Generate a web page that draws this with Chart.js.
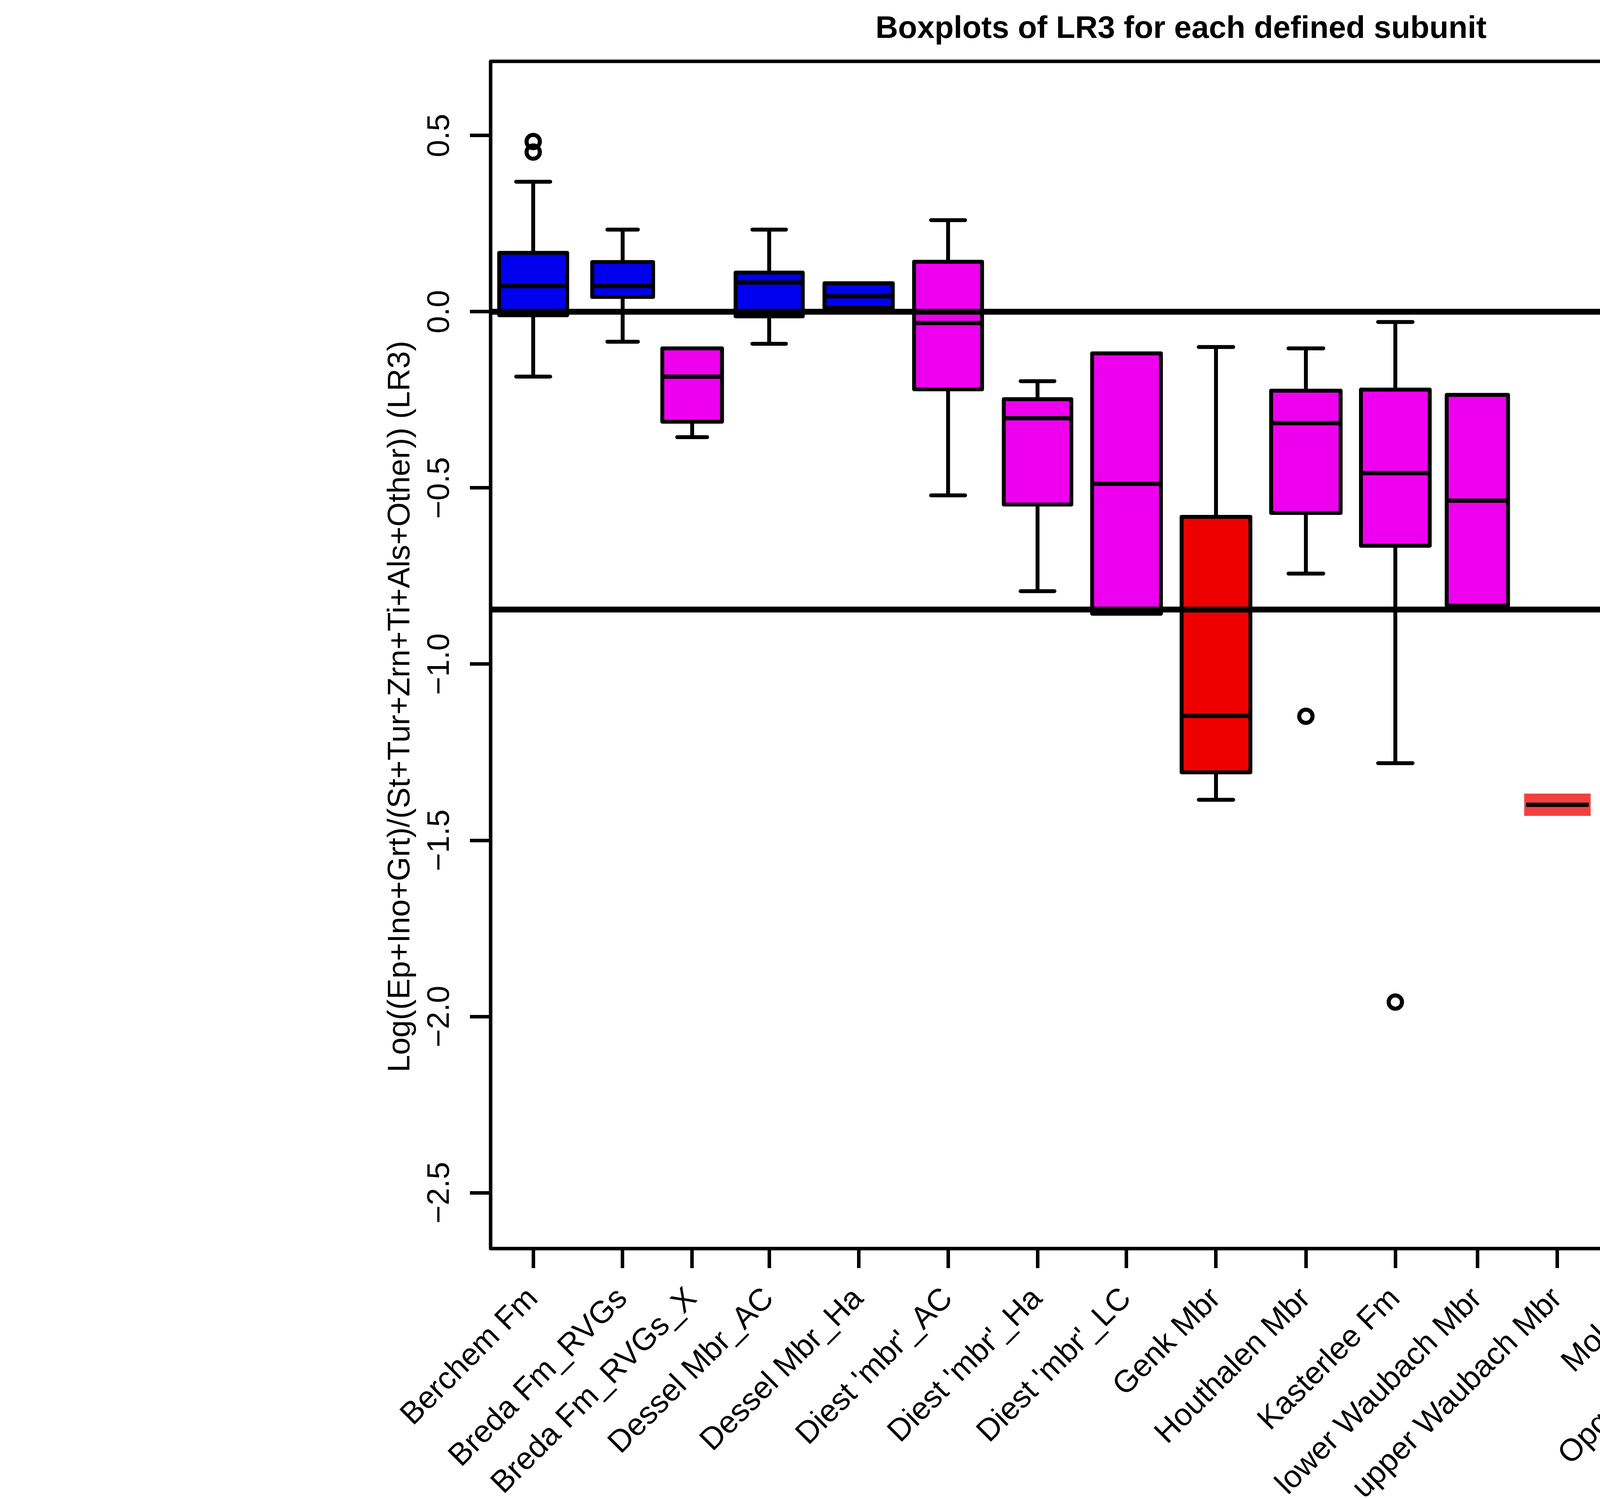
<!DOCTYPE html>
<html lang="en">
<head>
  <meta charset="UTF-8">
  <title>Boxplots of LR3 for each defined subunit</title>
  <script src="https://cdn.jsdelivr.net/npm/chart.js"></script>
  <style>
    html, body {
      margin: 0;
      padding: 0;
      background: #ffffff;
    }
    #wrap {
      width: 5757px;
      height: 3837px;
    }
  </style>
</head>
<body>

  <div id="wrap"><canvas id="lr3Chart" width="5757" height="3837"></canvas></div>

  <script>
    // subunits, in plotting order
    const subunits = [
      "Berchem Fm", "Breda Fm_RVGs", "Breda Fm_RVGs_X", "Dessel Mbr_AC", "Dessel Mbr_Ha",
      "Diest 'mbr'_AC", "Diest 'mbr'_Ha", "Diest 'mbr'_LC", "Genk Mbr", "Houthalen Mbr",
      "Kasterlee Fm", "lower Waubach Mbr", "upper Waubach Mbr", "Mol Fm", "Opgrimbie facies",
      "Flemish Hills 'fm'"
    ];

    // where each box sits on the x axis (like R's "at")
    const positions = [1.109, 2.109, 2.886, 3.747, 4.747, 5.747, 6.747, 7.742,
                       8.742, 9.747, 10.747, 11.664, 12.559, 13.498, 14.489, 15.563];

    // relative box widths (like R's "width")
    const boxWidths = [0.760, 0.681, 0.668, 0.751, 0.764, 0.760, 0.755, 0.769,
                       0.769, 0.777, 0.769, 0.686, 0.699, 0.777, 0.786, 0.786];

    // box statistics (LR3)
    const whiskerLow    = [-0.184, -0.085, -0.356, -0.091, 0.011, -0.521, -0.793, -0.857,
                           -1.385, -0.743, -1.281, -0.834, -1.399, -1.205, -2.533, -2.521];
    const lowerQuartile = [-0.010, 0.042, -0.312, -0.013, 0.011, -0.220, -0.547, -0.857,
                           -1.307, -0.571, -0.664, -0.834, -1.399, -1.205, -2.533, -1.953];
    const medians       = [0.073, 0.073, -0.184, 0.083, 0.044, -0.032, -0.302, -0.488,
                           -1.147, -0.316, -0.458, -0.536, -1.399, -1.044, -2.533, -1.766];
    const upperQuartile = [0.167, 0.141, -0.104, 0.111, 0.081, 0.142, -0.248, -0.118,
                           -0.582, -0.224, -0.221, -0.236, -1.399, -0.885, -2.533, -1.560];
    const whiskerHigh   = [0.369, 0.233, -0.104, 0.233, 0.081, 0.260, -0.197, -0.118,
                           -0.100, -0.104, -0.029, -0.236, -1.399, -0.885, -2.533, -1.465];
    const outliers = [[0.483, 0.453], [], [], [], [], [], [], [],
                      [], [-1.148], [-1.959], [], [], [], [], [-0.739]];

    // horizontal reference lines
    const refLines = [0, -0.845];

    const yTicks = [-2.5, -2.0, -1.5, -1.0, -0.5, 0.0, 0.5];

    const BLUE = '#0000EE', MAGENTA = '#EE00EE', RED = '#EE0000';
    const boxColors = [BLUE, BLUE, MAGENTA, BLUE, BLUE, MAGENTA, MAGENTA, MAGENTA,
                       RED, MAGENTA, MAGENTA, MAGENTA, RED, RED, RED, RED];

    const xMin = 0.633, xMax = 16.07;
    const yMin = -2.6585, yMax = 0.7106;

    Chart.defaults.font.family = "'Liberation Sans', Arial, Helvetica, sans-serif";
    Chart.defaults.color = '#000000';

    const LW = 10;

    // boxes, whiskers and medians, drawn through the chart scales
    const boxplotPlugin = {
      id: 'boxplots',
      beforeDatasetsDraw(chart) {
        const { ctx, scales: { x, y } } = chart;
        ctx.save();
        ctx.strokeStyle = '#000000';
        subunits.forEach((name, i) => {
          const cx = x.getPixelForValue(positions[i]);
          const half = x.getPixelForValue(positions[i] + boxWidths[i] / 2) - cx;
          const yLo = y.getPixelForValue(whiskerLow[i]);
          const yQ1 = y.getPixelForValue(lowerQuartile[i]);
          const yMed = y.getPixelForValue(medians[i]);
          const yQ3 = y.getPixelForValue(upperQuartile[i]);
          const yHi = y.getPixelForValue(whiskerHigh[i]);

          // whiskers + staples
          ctx.lineWidth = LW;
          if (whiskerHigh[i] > upperQuartile[i]) {
            ctx.lineCap = 'butt';
            ctx.beginPath(); ctx.moveTo(cx, yQ3); ctx.lineTo(cx, yHi); ctx.stroke();
            ctx.lineCap = 'round';
            ctx.beginPath(); ctx.moveTo(cx - half / 2, yHi); ctx.lineTo(cx + half / 2, yHi); ctx.stroke();
          }
          if (whiskerLow[i] < lowerQuartile[i]) {
            ctx.lineCap = 'butt';
            ctx.beginPath(); ctx.moveTo(cx, yQ1); ctx.lineTo(cx, yLo); ctx.stroke();
            ctx.lineCap = 'round';
            ctx.beginPath(); ctx.moveTo(cx - half / 2, yLo); ctx.lineTo(cx + half / 2, yLo); ctx.stroke();
          }

          // box
          ctx.lineCap = 'butt';
          if (upperQuartile[i] > lowerQuartile[i]) {
            ctx.fillStyle = boxColors[i];
            ctx.fillRect(cx - half, yQ3, 2 * half, yQ1 - yQ3);
            ctx.lineJoin = 'round';
            ctx.strokeRect(cx - half, yQ3, 2 * half, yQ1 - yQ3);
          } else {
            // single value: light band around the median
            ctx.globalAlpha = 0.75;
            ctx.fillStyle = boxColors[i];
            ctx.fillRect(cx - half - LW / 2, yMed - 28.5, 2 * half + LW, 57);
            ctx.globalAlpha = 1;
          }

          // median
          ctx.lineWidth = 11;
          ctx.beginPath(); ctx.moveTo(cx - half, yMed); ctx.lineTo(cx + half, yMed); ctx.stroke();
        });
        ctx.restore();
      }
    };

    // plot frame
    const framePlugin = {
      id: 'frame',
      afterDraw(chart) {
        const { ctx, chartArea: a } = chart;
        ctx.save();
        ctx.strokeStyle = '#000000';
        ctx.lineWidth = 9;
        ctx.lineJoin = 'round';
        ctx.strokeRect(a.left, a.top, a.right - a.left, a.bottom - a.top);
        ctx.restore();
      }
    };

    // y axis title (sits a little below the middle of the axis, as in the original)
    const yTitlePlugin = {
      id: 'yTitle',
      afterDraw(chart) {
        const { ctx, chartArea: a } = chart;
        ctx.save();
        ctx.translate(a.left - 208, (a.top + a.bottom) / 2 + 132);
        ctx.rotate(-Math.PI / 2);
        ctx.fillStyle = '#000000';
        ctx.font = "80px 'Liberation Sans', Arial, Helvetica, sans-serif";
        ctx.textAlign = 'center';
        ctx.textBaseline = 'alphabetic';
        ctx.fillText('Log((Ep+Ino+Grt)/(St+Tur+Zrn+Ti+Als+Other)) (LR3)', 0, 0);
        ctx.restore();
      }
    };

    const outlierPoints = [];
    outliers.forEach((vals, i) => vals.forEach(v => outlierPoints.push({ x: positions[i], y: v })));

    const refDatasets = refLines.map(v => ({
      type: 'line',
      data: [{ x: xMin, y: v }, { x: xMax, y: v }],
      borderColor: '#000000',
      borderWidth: 15,
      pointRadius: 0,
      borderCapStyle: 'butt'
    }));

    const ctx = document.getElementById('lr3Chart').getContext('2d');
    new Chart(ctx, {
      type: 'scatter',
      data: {
        datasets: [
          ...refDatasets,
          {
            type: 'scatter',
            data: outlierPoints,
            pointRadius: 17,
            pointBorderWidth: 10.5,
            borderColor: '#000000',
            backgroundColor: 'rgba(0,0,0,0)'
          }
        ]
      },
      options: {
        responsive: false,
        devicePixelRatio: 1,
        animation: false,
        layout: { padding: { left: 0, right: 966, top: 0, bottom: 0 } },
        plugins: {
          legend: { display: false },
          tooltip: { enabled: false },
          title: {
            display: true,
            fullSize: false,
            text: 'Boxplots of LR3 for each defined subunit',
            color: '#000000',
            font: { size: 80, weight: 'bold', lineHeight: 1.2 },
            padding: { top: 27, bottom: 34 }
          }
        },
        scales: {
          x: {
            type: 'linear',
            min: xMin,
            max: xMax,
            afterBuildTicks: s => { s.ticks = positions.map(v => ({ value: v })); },
            afterFit: s => { s.height = 641; },
            ticks: {
              autoSkip: false,
              minRotation: 45,
              maxRotation: 45,
              padding: 32,
              color: '#000000',
              font: { size: 80 },
              callback: (v, i) => subunits[i]
            },
            grid: { drawOnChartArea: false, drawTicks: true, tickLength: 50, tickWidth: 9, tickColor: '#000000' },
            border: { display: false }
          },
          y: {
            type: 'linear',
            min: yMin,
            max: yMax,
            afterBuildTicks: s => { s.ticks = yTicks.map(v => ({ value: v })); },
            afterFit: s => { s.width = 1256; },
            ticks: {
              minRotation: 90,
              maxRotation: 90,
              crossAlign: 'center',
              padding: -3,
              color: '#000000',
              font: { size: 80 },
              callback: v => v.toFixed(1).replace('-', '\u2212')
            },
            grid: { drawOnChartArea: false, drawTicks: true, tickLength: 53, tickWidth: 9, tickColor: '#000000' },
            border: { display: false }
          }
        }
      },
      plugins: [boxplotPlugin, framePlugin, yTitlePlugin]
    });
  </script>

</body>
</html>
